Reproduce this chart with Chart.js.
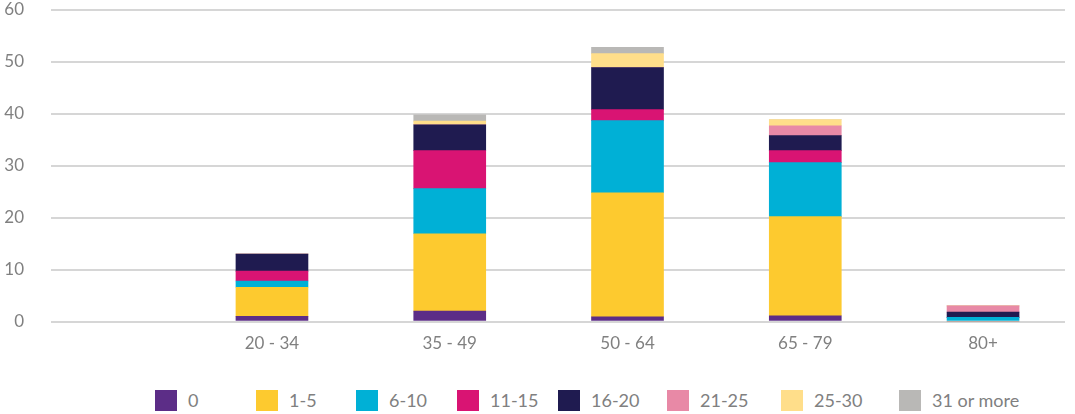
<!DOCTYPE html>
<html>
<head>
<meta charset="utf-8">
<script src="https://cdn.jsdelivr.net/npm/chart.js@4.4.1/dist/chart.umd.min.js"></script>
<style>
  html, body { margin: 0; padding: 0; background: #fff; }
  body { width: 1075px; height: 414px; overflow: hidden; font-family: "Lato", "Open Sans", sans-serif; }
  #wrap { position: relative; width: 1075px; height: 360px; }
  #legend {
    position: absolute; left: 155px; top: 390px;
    display: grid; grid-template-columns: 101px 100px 101px 101px 109px 114px 118px auto;
    align-items: center;
  }
  .item { display: flex; align-items: center; }
  .box { width: 22px; height: 21px; margin-right: 11px; flex: none; }
  .txt { color: #808080; font-size: 18px; line-height: 21px; white-space: nowrap; }
</style>
</head>
<body>
<div id="wrap"><canvas id="chart"></canvas></div>
<div id="legend"></div>
<script>
// age groups along the x axis
const CATEGORIES = ["20 - 34", "35 - 49", "50 - 64", "65 - 79", "80+"];
const Y_TICKS = [0, 10, 20, 30, 40, 50, 60];

// one series per band, bottom of the stack first
const SERIES_NAMES = ["0", "1-5", "6-10", "11-15", "16-20", "21-25", "25-30", "31 or more"];
const SERIES_COLORS = ["#5c2d87", "#fdca2f", "#00b0d6", "#d91473", "#1f1b50", "#e889a6", "#ffde8a", "#b9b8b6"];

const V_0      = [1.0, 2.0, 0.9, 1.1, 0];
const V_1_5    = [5.6, 14.9, 23.9, 19.1, 0];
const V_6_10   = [1.2, 8.7, 13.9, 10.4, 0.8];
const V_11_15  = [1.9, 7.3, 2.1, 2.3, 0];
const V_16_20  = [3.3, 5.0, 8.1, 2.9, 1.0];
const V_21_25  = [0, 0, 0, 1.9, 1.2];
const V_25_30  = [0, 0.7, 2.7, 1.2, 0];
const V_31_UP  = [0, 1.2, 1.2, 0, 0];

const SERIES_VALUES = [V_0, V_1_5, V_6_10, V_11_15, V_16_20, V_21_25, V_25_30, V_31_UP];

const datasets = SERIES_NAMES.map((name, s) => ({
  label: name,
  data: CATEGORIES.map((_, i) => ({ x: i + 1, y: SERIES_VALUES[s][i] })),
  backgroundColor: SERIES_COLORS[s],
  borderWidth: 0,
  barThickness: 72
}));

const chart = new Chart(document.getElementById("chart"), {
  type: "bar",
  data: { datasets },
  options: {
    responsive: true,
    maintainAspectRatio: false,
    animation: false,
    layout: { padding: { top: 10, right: 10, left: 3, bottom: 8.5 } },
    plugins: {
      legend: { display: false },
      tooltip: { enabled: false }
    },
    scales: {
      x: {
        type: "linear",
        stacked: true,
        offset: false,
        // leaves an empty slot left of the first age group, as in the original
        min: -0.243,
        max: 5.461,
        afterBuildTicks: (axis) => { axis.ticks = CATEGORIES.map((_, i) => ({ value: i + 1 })); },
        afterFit: (axis) => {
          axis.height = 30;
          axis.paddingLeft = 0;
          axis.paddingRight = 0;
        },
        ticks: {
          callback: (v) => CATEGORIES[v - 1] || "",
          color: "#808080",
          padding: 12,
          autoSkip: false,
          maxRotation: 0,
          font: { family: "Lato", size: 17 }
        },
        grid: { display: false, drawTicks: false },
        border: { display: false }
      },
      y: {
        stacked: true,
        min: 0,
        max: 60,
        afterBuildTicks: (axis) => { axis.ticks = Y_TICKS.map(v => ({ value: v })); },
        afterFit: (axis) => {
          axis.width = 48;
          axis.paddingTop = 0;
          axis.paddingBottom = 0;
        },
        ticks: {
          color: "#808080",
          padding: 27,
          font: { family: "Lato", size: 17 }
        },
        grid: { color: "#d6d6d6", lineWidth: 2, drawTicks: false },
        border: { display: false }
      }
    }
  }
});

// html legend built from the chart's own datasets
document.getElementById("legend").innerHTML = chart.data.datasets.map(d => `
  <div class="item"><span class="box" style="background:${d.backgroundColor}"></span><span class="txt">${d.label}</span></div>
`).join("");
</script>
</body>
</html>
